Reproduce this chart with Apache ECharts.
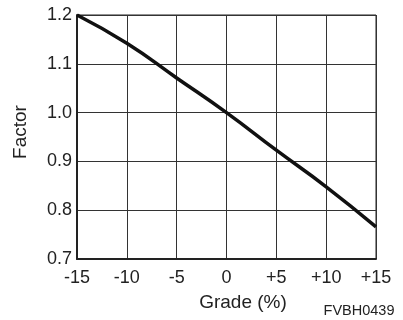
<!DOCTYPE html>
<html><head><meta charset="utf-8">
<script src="https://cdn.jsdelivr.net/npm/echarts@6/dist/echarts.min.js"></script>
<style>html,body{margin:0;padding:0;background:#fff}#c{width:403px;height:320px}</style>
</head><body><div id="c"></div>
<script>
const grades = [-15, -10, -5, 0, 5, 10, 15];
const factors = [1.2, 1.142, 1.071, 1.0, 0.923, 0.848, 0.766];
const xTickLabels = {"-15":"-15","-10":"-10","-5":"-5","0":"0","5":"+5","10":"+10","15":"+15"};
const xTitle = "Grade (%)";
const yTitle = "Factor";
const code = "FVBH0439";

const font = "Liberation Sans, Arial, sans-serif";
const chart = echarts.init(document.getElementById('c'), null, {renderer:'canvas'});
chart.setOption({
  animation:false,
  grid:{left:77,right:27,top:15,bottom:61,show:true,borderColor:'#222',borderWidth:1},
  xAxis:{type:'value',min:-15,max:15,interval:5,
    axisLine:{show:true,onZero:false,lineStyle:{color:'#222',width:2}},
    axisTick:{show:false},
    splitLine:{show:true,lineStyle:{color:'#333',width:1}},
    axisLabel:{color:'#222',fontSize:18,fontFamily:font,margin:10,
      formatter:v=>xTickLabels[String(v)]}},
  yAxis:{type:'value',min:0.7,max:1.2,interval:0.1,
    axisLine:{show:true,onZero:false,lineStyle:{color:'#222',width:2}},
    axisTick:{show:false},
    splitLine:{show:true,lineStyle:{color:'#333',width:1}},
    axisLabel:{color:'#222',fontSize:18,fontFamily:font,margin:5,
      formatter:v=>v.toFixed(1)}},
  graphic:[
    {type:'text',x:243,y:303,style:{text:xTitle,fill:'#222',fontSize:19,fontFamily:font,textAlign:'center',textVerticalAlign:'middle'}},
    {type:'text',x:21,y:132,rotation:Math.PI/2,style:{text:yTitle,fill:'#222',fontSize:19,fontFamily:font,textAlign:'center',textVerticalAlign:'middle'}},
    {type:'text',x:359,y:311,style:{text:code,fill:'#222',fontSize:14.5,fontFamily:font,textAlign:'center',textVerticalAlign:'middle'}}
  ],
  series:[{type:'line',data:grades.map((g,i)=>[g,factors[i]]),smooth:true,showSymbol:false,
    lineStyle:{color:'#111',width:3.5}}]
});
</script></body></html>
